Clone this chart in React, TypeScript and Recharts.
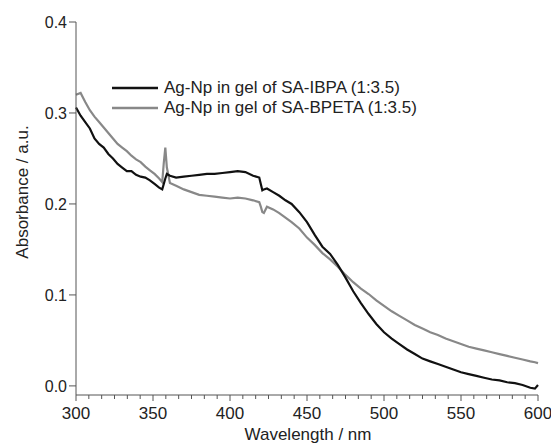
import { LineChart, Line, XAxis, YAxis, Legend } from 'recharts';

// wavelength (nm) sample points
const wavelengths = [
  300, 303, 306, 309, 312, 315, 318, 321, 324, 327, 330, 333, 336, 339, 342, 345, 348, 351, 354, 356,
  357, 358, 359, 361, 365, 370, 375, 380, 385, 390, 395, 400, 405, 410, 415, 419, 420, 421, 422, 424,
  428, 432, 436, 440, 445, 450, 455, 460, 465, 470, 475, 480, 485, 490, 495, 500, 505, 510, 515, 520,
  525, 530, 535, 540, 545, 550, 555, 560, 565, 570, 575, 580, 585, 590, 595, 598, 600,
];

// Ag-Np in gel of SA-IBPA (black)
const ibpa = [
  0.306, 0.297, 0.29, 0.283, 0.272, 0.266, 0.262, 0.255, 0.25, 0.244, 0.24, 0.236, 0.236, 0.232, 0.23, 0.229, 0.226, 0.222, 0.218, 0.216,
  0.222, 0.228, 0.233, 0.231, 0.229, 0.23, 0.231, 0.232, 0.233, 0.233, 0.234, 0.235, 0.236, 0.235, 0.231, 0.229, 0.222, 0.215, 0.216, 0.217,
  0.213, 0.209, 0.204, 0.2, 0.191, 0.18, 0.166, 0.153, 0.145, 0.133, 0.119, 0.104, 0.091, 0.079, 0.068, 0.059, 0.052, 0.046, 0.04, 0.035,
  0.03, 0.027, 0.024, 0.021, 0.018, 0.015, 0.013, 0.011, 0.009, 0.007, 0.006, 0.004, 0.003, 0.001, -0.002, -0.003, 0.001,
];

// Ag-Np in gel of SA-BPETA (grey)
const bpeta = [
  0.32, 0.322, 0.312, 0.303, 0.296, 0.29, 0.284, 0.278, 0.272, 0.266, 0.262, 0.258, 0.253, 0.249, 0.246, 0.241, 0.237, 0.233, 0.228, 0.224,
  0.245, 0.262, 0.24, 0.223, 0.22, 0.216, 0.213, 0.21, 0.209, 0.208, 0.207, 0.206, 0.207, 0.206, 0.204, 0.202, 0.197, 0.191, 0.19, 0.197,
  0.194, 0.19, 0.185, 0.18, 0.173, 0.163, 0.155, 0.146, 0.139, 0.131, 0.122, 0.114, 0.107, 0.101, 0.094, 0.088, 0.082, 0.077, 0.072, 0.067,
  0.063, 0.059, 0.056, 0.052, 0.049, 0.046, 0.043, 0.041, 0.039, 0.037, 0.035, 0.033, 0.031, 0.029, 0.027, 0.026, 0.025,
];

const xMajorTicks = [300, 350, 400, 450, 500, 550, 600];
const yTicks = [0, 0.1, 0.2, 0.3, 0.4];

const seriesNames = ['Ag-Np in gel of SA-IBPA (1:3.5)', 'Ag-Np in gel of SA-BPETA (1:3.5)'];
const seriesColors = ['#111111', '#888888'];

const data = wavelengths.map((wl, i) => ({ wl, ibpa: ibpa[i], bpeta: bpeta[i] }));

// 6 subdivisions between labelled ticks
const xTicks: number[] = [];
xMajorTicks.forEach((t, i) => {
  xTicks.push(t);
  if (i < xMajorTicks.length - 1) {
    for (let k = 1; k < 6; k++) xTicks.push(t + (50 * k) / 6);
  }
});

const font = '"Liberation Sans", Arial, sans-serif';
const axisColor = '#555';

function XTick(props: any) {
  const { x, y, payload } = props;
  const v = payload.value;
  const major = xMajorTicks.includes(v);
  return (
    <g>
      <line x1={x} x2={x} y1={y} y2={y + (major ? 6 : 4)} stroke={axisColor} />
      {major && (
        <text x={x} y={y + 24} textAnchor="middle" fontSize={17} fill="#222" fontFamily={font}>
          {v}
        </text>
      )}
    </g>
  );
}

function LegendBox() {
  return (
    <div style={{ fontFamily: font, fontSize: 17, color: '#222', lineHeight: '20px' }}>
      {seriesNames.map((name, i) => (
        <div key={name} style={{ display: 'flex', alignItems: 'center', height: 20, whiteSpace: 'nowrap' }}>
          <svg width={46} height={6} style={{ marginRight: 6 }}>
            <line x1={0} x2={46} y1={3} y2={3} stroke={seriesColors[i]} strokeWidth={2.5} />
          </svg>
          <span>{name}</span>
        </div>
      ))}
    </div>
  );
}

export default function App() {
  return (
    <div style={{ position: 'absolute', left: 0, top: 0, background: '#fff' }}>
      <LineChart width={551} height={446} data={data} margin={{ top: 22, right: 13, bottom: 0, left: 0 }}>
        <XAxis
          dataKey="wl"
          type="number"
          domain={[300, 600]}
          ticks={xTicks}
          interval={0}
          height={51}
          stroke={axisColor}
          tickLine={false}
          tickSize={0}
          tickMargin={0}
          tick={<XTick />}
          label={{
            content: () => (
              <text x={308} y={440} textAnchor="middle" fontSize={17} fill="#222" fontFamily={font}>
                Wavelength / nm
              </text>
            ),
          }}
        />
        <YAxis
          type="number"
          domain={[-0.01, 0.4]}
          ticks={yTicks}
          interval={0}
          width={76}
          stroke={axisColor}
          tickSize={7}
          tickMargin={2}
          tickFormatter={(v: number) => v.toFixed(1)}
          tick={{ fontSize: 16, fill: '#222', fontFamily: font }}
          label={{
            content: () => (
              <text
                x={28}
                y={192}
                transform="rotate(-90, 28, 192)"
                textAnchor="middle"
                fontSize={17}
                fill="#222"
                fontFamily={font}
              >
                Absorbance / a.u.
              </text>
            ),
          }}
        />
        <Legend
          layout="vertical"
          verticalAlign="middle"
          align="center"
          content={() => <LegendBox />}
          wrapperStyle={{ left: 112, top: 78, width: 330, height: 40 }}
        />
        <Line
          dataKey="bpeta"
          name={seriesNames[1]}
          stroke={seriesColors[1]}
          strokeWidth={2.2}
          dot={false}
          type="linear"
          isAnimationActive={false}
        />
        <Line
          dataKey="ibpa"
          name={seriesNames[0]}
          stroke={seriesColors[0]}
          strokeWidth={2.2}
          dot={false}
          type="linear"
          isAnimationActive={false}
        />
      </LineChart>
    </div>
  );
}
